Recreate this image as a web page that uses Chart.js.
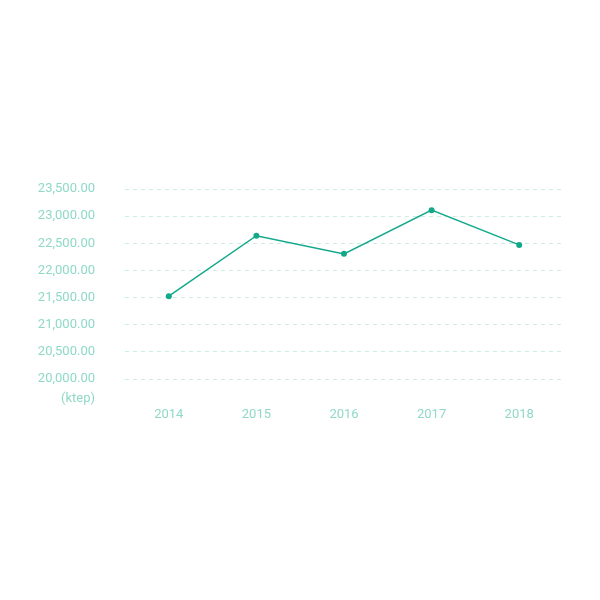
<!DOCTYPE html>
<html>
<head>
<meta charset="utf-8">
<script src="https://cdn.jsdelivr.net/npm/chart.js@4"></script>
<style>
  html, body { margin: 0; padding: 0; background: #ffffff; }
  #wrap { width: 600px; height: 600px; }
</style>
</head>
<body>
<div id="wrap"><canvas id="myChart" width="600" height="600"></canvas></div>
<script>
// Datos del gráfico
const years = ['2014', '2015', '2016', '2017', '2018'];
const consumo = [21525, 22640, 22305, 23110, 22470];
const yMin = 20000;
const yMax = 23500;
const yStep = 500;
const unidad = '(ktep)';

const tickColor = '#8fd9c7';
const lineColor = '#12a98b';
const gridColor = '#cbede4';

// Dibuja la unidad debajo de las etiquetas del eje Y
const unidadPlugin = {
    id: 'unidad',
    afterDraw(chart) {
        const y = chart.scales.y;
        const ctx = chart.ctx;
        ctx.save();
        ctx.font = '13px Roboto';
        ctx.fillStyle = tickColor;
        ctx.textAlign = 'right';
        ctx.textBaseline = 'middle';
        ctx.fillText(unidad, y.right - 30, y.bottom + 20);
        ctx.restore();
    }
};

const ctx = document.getElementById('myChart').getContext('2d');
new Chart(ctx, {
    type: 'line',
    data: {
        labels: years,
        datasets: [{
            data: consumo,
            borderColor: lineColor,
            backgroundColor: lineColor,
            borderWidth: 1.5,
            pointRadius: 3,
            pointHoverRadius: 3,
            pointBorderWidth: 0,
            tension: 0
        }]
    },
    options: {
        responsive: false,
        animation: false,
        layout: { padding: { top: 189, right: 37, left: 0, bottom: 0 } },
        plugins: { legend: { display: false }, tooltip: { enabled: false } },
        scales: {
            x: {
                offset: true,
                grid: { display: false, drawTicks: false },
                border: { display: false },
                ticks: { color: tickColor, font: { family: 'Roboto', size: 13 }, padding: 28 },
                afterFit(scale) { scale.height = 221; }
            },
            y: {
                min: yMin,
                max: yMax,
                ticks: {
                    stepSize: yStep,
                    color: tickColor,
                    font: { family: 'Roboto', size: 13 },
                    padding: 30,
                    callback: v => v.toLocaleString('en-US', { minimumFractionDigits: 2, maximumFractionDigits: 2 })
                },
                grid: { color: gridColor, drawTicks: false, lineWidth: 1 },
                border: { display: false, dash: [4, 4] },
                afterFit(scale) { scale.width = 125; }
            }
        }
    },
    plugins: [unidadPlugin]
});
</script>
</body>
</html>
